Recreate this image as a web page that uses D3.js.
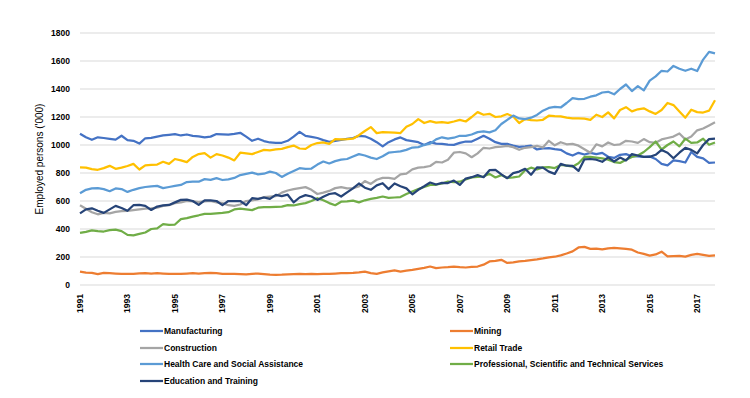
<!DOCTYPE html>
<html>
<head>
<meta charset="utf-8">
<script src="https://cdn.jsdelivr.net/npm/d3@7"></script>
<style>
  body { margin: 0; background: #fff; }
  svg text { font-family: "Liberation Sans", Arial, sans-serif; fill: #000; }
</style>
</head>
<body>
<div id="chart"></div>
<script>
// quarterly series, 1991 Q1 .. 2017 Q4 ('000 persons)
var years = d3.range(1991, 2018);
var tickYears = [1991, 1993, 1995, 1997, 1999, 2001, 2003, 2005, 2007, 2009, 2011, 2013, 2015, 2017];
var yTicks = [0, 200, 400, 600, 800, 1000, 1200, 1400, 1600, 1800];

var manufacturing = [1080,1055,1037,1055,1050,1044,1038,1066,1035,1030,1010,1048,1051,1060,1068,1073,
  1078,1068,1075,1065,1061,1055,1060,1078,1076,1074,1080,1087,1060,1030,1045,
  1028,1018,1016,1016,1030,1060,1094,1065,1058,1050,1035,1023,1030,1037,1044,
  1050,1065,1062,1045,1020,990,1020,1040,1054,1035,1028,1020,1000,1020,1010,
  1008,1003,1001,1015,1025,1025,1045,1066,1045,1020,1008,1008,995,987,990,
  995,968,975,978,970,966,940,925,944,932,944,935,944,916,908,930,
  935,920,918,916,918,900,865,855,890,885,875,950,915,905,872,875];
var mining = [95,88,86,78,86,84,82,80,80,80,83,85,82,84,82,80,
  80,80,82,84,82,85,86,84,80,80,80,78,76,80,82,
  78,74,73,74,76,78,79,78,80,78,80,79,82,84,84,
  86,90,95,85,80,90,98,105,96,102,108,115,122,132,120,
  125,128,132,128,125,130,132,145,168,172,180,158,162,168,172,
  178,183,190,198,202,212,225,240,268,272,258,260,255,262,265,262,
  258,252,232,222,210,218,238,205,207,208,203,215,222,215,208,212];
var construction = [570,545,520,505,515,512,522,528,530,535,540,545,548,552,565,570,
  585,590,600,598,592,598,600,590,585,570,565,575,600,605,612,
  628,632,635,660,675,685,692,699,680,650,660,672,692,699,690,
  692,705,742,722,752,765,765,758,790,795,826,838,842,850,880,
  875,895,945,950,940,913,940,980,975,985,988,994,985,966,980,
  985,994,982,1030,998,1020,1005,1008,995,970,945,1005,990,1018,1000,1005,
  1030,1025,1015,1042,1020,1016,1040,1050,1060,1082,1040,1060,1105,1118,1140,1162];
var retail = [840,838,828,823,835,851,830,838,850,865,825,855,858,860,880,865,
  900,890,878,915,935,942,910,935,925,910,890,945,940,935,950,
  965,962,968,972,985,996,975,972,1000,1014,1018,1008,1042,1040,1042,
  1045,1070,1100,1128,1085,1092,1090,1088,1085,1130,1150,1185,1157,1170,1160,
  1164,1158,1168,1180,1168,1200,1235,1216,1223,1200,1205,1221,1204,1157,1185,
  1178,1175,1180,1209,1206,1204,1195,1190,1190,1188,1180,1216,1200,1233,1190,1250,
  1270,1240,1255,1262,1240,1222,1250,1300,1285,1240,1195,1252,1235,1232,1245,1320];
var health = [655,680,690,692,685,670,690,685,665,680,692,700,705,708,692,700,
  708,715,735,739,738,756,751,763,750,755,765,785,794,803,790,
  795,810,800,772,795,815,834,830,832,860,882,868,885,895,900,
  918,935,925,910,900,920,945,950,955,965,982,985,1000,1010,1040,
  1055,1045,1052,1066,1065,1075,1092,1097,1090,1105,1150,1180,1210,1190,1185,
  1195,1215,1245,1265,1272,1268,1300,1335,1328,1330,1345,1355,1375,1380,1362,1400,
  1432,1385,1420,1390,1460,1490,1530,1525,1565,1545,1530,1545,1528,1610,1665,1655];
var professional = [372,380,390,385,382,392,395,385,358,355,365,375,400,405,435,430,
  432,470,478,489,498,508,508,512,515,520,540,545,540,535,552,
  556,556,558,560,570,568,578,585,600,620,605,585,570,595,598,
  603,590,605,615,622,632,622,625,628,650,668,685,700,715,716,
  725,738,735,738,755,768,772,775,794,768,785,765,768,775,820,
  838,825,840,842,835,858,852,845,870,915,915,910,905,895,878,872,
  895,915,925,950,985,1025,968,1000,1025,990,1045,1015,1018,1045,1002,1018];
var education = [512,540,548,530,515,540,565,550,530,570,572,565,536,560,568,572,
  590,608,610,600,572,605,605,600,570,600,600,600,570,620,615,
  625,615,644,635,645,590,625,642,632,608,630,650,656,632,662,
  690,725,695,680,712,727,685,725,705,690,648,680,705,732,718,
  730,728,746,715,760,770,785,770,820,822,790,763,799,810,830,
  787,840,838,810,794,865,852,851,815,898,900,895,880,912,882,910,
  890,935,925,915,915,930,965,945,905,945,980,965,940,1000,1042,1045];

var seriesNames = ["Manufacturing", "Mining", "Construction", "Retail Trade",
  "Health Care and Social Assistance", "Professional, Scientific and Technical Services",
  "Education and Training"];
var seriesValues = [manufacturing, mining, construction, retail, health, professional, education];
var colors = ["#4472C4", "#ED7D31", "#A5A5A5", "#FFC000", "#5B9BD5", "#70AD47", "#264478"];

var quarters = [];
years.forEach(function(y) { for (var q = 1; q <= 4; q++) quarters.push(y + " Q" + q); });

var width = 750, height = 398;
var margin = {left: 80, right: 35, top: 33, bottom: 113};

var svg = d3.select("#chart").append("svg")
  .attr("width", width)
  .attr("height", height);

var x = d3.scalePoint()
  .domain(quarters)
  .range([margin.left, width - margin.right]);

var y = d3.scaleLinear()
  .domain([0, 1800])
  .range([height - margin.bottom, margin.top]);

// gridlines
svg.append("g")
  .selectAll("line")
  .data(yTicks)
  .enter().append("line")
  .attr("x1", margin.left)
  .attr("x2", width - margin.right)
  .attr("y1", function(d) { return y(d); })
  .attr("y2", function(d) { return y(d); })
  .style("stroke", "#D9D9D9")
  .style("stroke-width", 1);

// y labels
svg.append("g")
  .selectAll("text")
  .data(yTicks)
  .enter().append("text")
  .attr("x", 70)
  .attr("y", function(d) { return y(d); })
  .attr("dy", "0.35em")
  .attr("text-anchor", "end")
  .style("font-size", "8.5px")
  .style("font-weight", "bold")
  .text(function(d) { return d; });

// x labels
svg.append("g")
  .selectAll("text")
  .data(tickYears)
  .enter().append("text")
  .attr("transform", function(d) {
    return "translate(" + x(d + " Q1") + "," + (height - margin.bottom + 9) + ") rotate(-90)";
  })
  .attr("dy", "0.35em")
  .attr("text-anchor", "end")
  .style("font-size", "8.5px")
  .style("font-weight", "bold")
  .text(function(d) { return d; });

svg.append("text")
  .attr("transform", "translate(43," + y(900) + ") rotate(-90)")
  .attr("text-anchor", "middle")
  .style("font-size", "10px")
  .text("Employed persons ('000)");

var line = d3.line()
  .x(function(d, i) { return x(quarters[i]); })
  .y(function(d) { return y(d); });

for (var i = 0; i < seriesValues.length; i++) {
  svg.append("path")
    .datum(seriesValues[i])
    .attr("d", line)
    .style("fill", "none")
    .style("stroke", colors[i])
    .style("stroke-width", 2.25)
    .style("stroke-linejoin", "round");
}

// legend, two columns
var legendPos = [[140, 331], [450, 331], [140, 348], [450, 348], [140, 364], [450, 364], [140, 381]];
var legend = svg.append("g")
  .selectAll("g")
  .data(seriesNames)
  .enter().append("g")
  .attr("transform", function(d, i) { return "translate(" + legendPos[i][0] + "," + legendPos[i][1] + ")"; });

legend.append("line")
  .attr("x1", 0)
  .attr("x2", 23)
  .style("stroke", function(d, i) { return colors[i]; })
  .style("stroke-width", 2.25);

legend.append("text")
  .attr("x", 24)
  .attr("dy", "0.35em")
  .style("font-family", "'Liberation Sans Narrow', 'Liberation Sans', Arial, sans-serif")
  .style("font-size", "8.5px")
  .style("font-weight", "bold")
  .text(function(d) { return d; });
</script>
</body>
</html>
